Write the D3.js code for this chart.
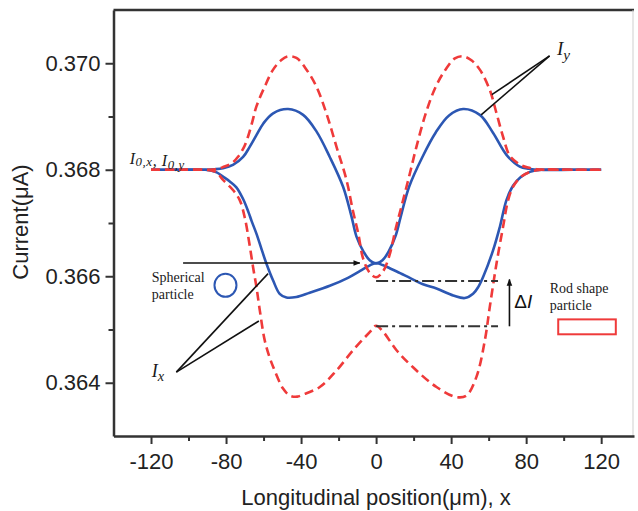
<!DOCTYPE html>
<html>
<head>
<meta charset="utf-8">
<title>Current vs longitudinal position</title>
<script src="https://cdn.jsdelivr.net/npm/d3@7/dist/d3.min.js"></script>
<style>
  body { margin: 0; background: #fff; }
  #chart svg { display: block; font-family: Arial, "Liberation Sans", sans-serif; }
  .tick text { font-size: 22px; fill: #222; }
  .serif { font-family: "Liberation Serif", "Times New Roman", serif; fill: #1a1a1a; }
</style>
</head>
<body>
<div id="chart"></div>
<script>
// x = longitudinal position (um), value = current (uA)
const xTicks = [-120, -80, -40, 0, 40, 80, 120];
const xMinorTicks = [-100, -60, -20, 20, 60, 100];
const yTicks = [0.364, 0.366, 0.368, 0.370];
const yMinorTicks = [0.365, 0.367, 0.369];

// spherical particle (blue, solid)
const iySphere = [
    [-120, 0.36800], [-105, 0.36800], [-92, 0.36800], [-86, 0.36801], [-81.6, 0.36803], [-76.3, 0.36809],
    [-70.9, 0.36824], [-67.4, 0.36843], [-63.8, 0.36865], [-60.1, 0.36887], [-54.9, 0.36906],
    [-46.9, 0.36914], [-38.9, 0.36903], [-31.8, 0.36872], [-24.7, 0.36824], [-17.6, 0.36768],
    [-13.1, 0.36712], [-10.5, 0.36675], [-6.5, 0.36645], [-3.4, 0.36630], [0, 0.36624],
    [3.4, 0.36630], [6.8, 0.36647], [10.5, 0.36677], [13, 0.36710], [17.6, 0.36768],
    [24.7, 0.36824], [31.8, 0.36870], [38.9, 0.36902], [46.4, 0.36914], [55.3, 0.36903],
    [62.4, 0.36869], [69.5, 0.36828], [76.6, 0.36806], [81.6, 0.36802], [87, 0.36800],
    [105, 0.36800], [120, 0.36800]
];
const ixSphere = [
    [-120, 0.36800], [-105, 0.36800], [-91, 0.36800], [-85, 0.36795], [-81.6, 0.36787], [-78, 0.36778],
    [-74.5, 0.36767], [-70.9, 0.36745], [-68, 0.36720], [-66.4, 0.36704], [-63.8, 0.36680],
    [-61, 0.36650], [-58.5, 0.36624], [-54.9, 0.36592], [-51.4, 0.36567], [-47.8, 0.36560],
    [-42.5, 0.36561], [-35.4, 0.36569], [-24.7, 0.36582], [-15, 0.36597], [-8.5, 0.36610],
    [-3.5, 0.36620], [0, 0.36625], [3.5, 0.36621], [7.3, 0.36615], [11, 0.36609],
    [18, 0.36597], [25, 0.36585], [32.2, 0.36577], [41.1, 0.36564], [47.3, 0.36559],
    [51.7, 0.36567], [54.5, 0.36580], [57.1, 0.36599], [62.4, 0.36649], [66, 0.36693],
    [69.5, 0.36743], [73, 0.36770], [77, 0.36786], [82, 0.36796], [88, 0.36800],
    [105, 0.36800], [120, 0.36800]
];

// rod shaped particle (red, dashed)
const iyRod = [
    [-120, 0.36800], [-105, 0.36800], [-91, 0.36800], [-85.5, 0.36801], [-81.6, 0.36805], [-77, 0.36812],
    [-73.5, 0.36825], [-70.5, 0.36842], [-68.3, 0.36862], [-66, 0.36890], [-63.8, 0.36919],
    [-59.4, 0.36956], [-54.9, 0.36988], [-50.5, 0.37006], [-47, 0.37013], [-42.5, 0.37010],
    [-37.1, 0.36988], [-31.8, 0.36956], [-26.5, 0.36906], [-21.1, 0.36843], [-15.8, 0.36781],
    [-12.3, 0.36722], [-9.5, 0.36680], [-6.9, 0.36633], [-3.5, 0.36607], [0, 0.36598],
    [3.5, 0.36608], [7, 0.36638], [10.5, 0.36690], [14.4, 0.36743], [18, 0.36793],
    [21.5, 0.36843], [26.5, 0.36906], [31.8, 0.36956], [37, 0.36988], [42, 0.37009],
    [46.4, 0.37013], [51, 0.37005], [55.3, 0.36988], [60.6, 0.36950], [64.2, 0.36906],
    [67.7, 0.36862], [71.3, 0.36826], [76.6, 0.36810], [81, 0.36804], [85.5, 0.36801],
    [91, 0.36800], [105, 0.36800], [120, 0.36800]
];
const ixRod = [
    [-120, 0.36800], [-105, 0.36800], [-91, 0.36800], [-85.5, 0.36796], [-81.6, 0.36781], [-76.3, 0.36762],
    [-72.7, 0.36743], [-70, 0.36710], [-67.5, 0.36660], [-65.5, 0.36615], [-63.8, 0.36580],
    [-62, 0.36536], [-59.4, 0.36480], [-57, 0.36450], [-54.9, 0.36430], [-49.6, 0.36389],
    [-46, 0.36376], [-42, 0.36374], [-38.9, 0.36378], [-30, 0.36392], [-21.1, 0.36423],
    [-12.3, 0.36461], [-3.4, 0.36495], [0, 0.36507], [3.5, 0.36497], [10.9, 0.36461],
    [19.7, 0.36429], [32.2, 0.36392], [42.9, 0.36373], [48.2, 0.36376], [53.5, 0.36411],
    [58, 0.36480], [60.6, 0.36542], [64.2, 0.36624], [67.7, 0.36693], [70.4, 0.36743],
    [73, 0.36768], [77, 0.36786], [82, 0.36796], [88, 0.36800], [105, 0.36800], [120, 0.36800]
];

// annotations, in data units
const iyLeaders = [[[92.5, 0.37014], [61.7, 0.36941]], [[92.5, 0.37014], [56, 0.36903]]];
const ixLeaders = [[[-106.5, 0.36420], [-57.6, 0.36605]], [[-106.5, 0.36420], [-62.5, 0.36516]]];
const sphereArrow = [[-102.9, 0.36625], [-8.7, 0.36625]];
const deltaLevels = [0.36591, 0.36506];
const deltaSpan = [0, 65];
const deltaArrow = [[71.1, 0.36506], [71.1, 0.36594]];
const sphereIcon = [-80.3, 0.36583];
const rodIcon = [[97.1, 0.36519], [127.8, 0.36491]];

function drawChart() {
    let dimensions = {
        width: 638,
        height: 511,
        margin: { top: 10, right: 4, bottom: 75, left: 113.5 },
    }
    dimensions.right = dimensions.width - dimensions.margin.right;
    dimensions.bottom = dimensions.height - dimensions.margin.bottom;

    const blue = "#2c57b3";
    const red = "#ef3a3a";
    const axisColor = "#333";

    //SCALES
    const xScale = d3.scaleLinear()
        .domain([-140, 137.5])
        .range([dimensions.margin.left, dimensions.right]);
    const yScale = d3.scaleLinear()
        .domain([0.363, 0.371])
        .range([dimensions.bottom, dimensions.margin.top]);

    const wrapper = d3.select("#chart").append("svg")
        .attr("width", dimensions.width)
        .attr("height", dimensions.height);

    const defs = wrapper.append("defs");
    defs.append("marker")
        .attr("id", "arrowHead")
        .attr("viewBox", "0 0 10 10")
        .attr("refX", 9)
        .attr("refY", 5)
        .attr("markerWidth", 7)
        .attr("markerHeight", 7)
        .attr("markerUnits", "userSpaceOnUse")
        .attr("orient", "auto")
        .append("path")
        .attr("d", "M0,1 L10,5 L0,9 Z")
        .attr("fill", "#111");

    //FRAME: top dark, right light
    wrapper.append("line")
        .attr("x1", dimensions.margin.left).attr("x2", dimensions.right)
        .attr("y1", dimensions.margin.top).attr("y2", dimensions.margin.top)
        .attr("stroke", axisColor).attr("stroke-width", 2.5);
    wrapper.append("line")
        .attr("x1", dimensions.right - 1).attr("x2", dimensions.right - 1)
        .attr("y1", dimensions.margin.top).attr("y2", dimensions.bottom)
        .attr("stroke", "#cfcfcf").attr("stroke-width", 1);

    //AXES
    wrapper.append("g")
        .attr("transform", `translate(0, ${dimensions.bottom})`)
        .call(d3.axisBottom(xScale).tickValues(xTicks).tickSize(8).tickSizeOuter(0)
            .tickPadding(9).tickFormat(d => String(d)));
    wrapper.append("g")
        .attr("transform", `translate(0, ${dimensions.bottom})`)
        .call(d3.axisBottom(xScale).tickValues(xMinorTicks).tickSize(5).tickSizeOuter(0).tickFormat(""))
        .select(".domain").remove();

    wrapper.append("g")
        .attr("transform", `translate(${dimensions.margin.left}, 0)`)
        .call(d3.axisLeft(yScale).tickValues(yTicks).tickSize(8).tickSizeOuter(0)
            .tickPadding(5).tickFormat(d3.format(".3f")));
    wrapper.append("g")
        .attr("transform", `translate(${dimensions.margin.left}, 0)`)
        .call(d3.axisLeft(yScale).tickValues(yMinorTicks).tickSize(5).tickSizeOuter(0).tickFormat(""))
        .select(".domain").remove();

    wrapper.selectAll(".domain").attr("stroke", axisColor).attr("stroke-width", 2.5);
    wrapper.selectAll(".tick line").attr("stroke", axisColor).attr("stroke-width", 2);

    //AXIS TITLES
    wrapper.append("text")
        .attr("x", xScale(0))
        .attr("y", 505)
        .attr("text-anchor", "middle")
        .attr("font-size", "22px")
        .attr("fill", "#222")
        .text("Longitudinal position(\u03bcm), x");
    wrapper.append("text")
        .attr("transform", `translate(28, ${(yScale(0.3665) + yScale(0.3675)) / 2 - 1}) rotate(-90)`)
        .attr("text-anchor", "middle")
        .attr("font-size", "22px")
        .attr("fill", "#222")
        .text("Current(\u03bcA)");

    //CURVES
    const line = d3.line()
        .x(d => xScale(d[0]))
        .y(d => yScale(d[1]))
        .curve(d3.curveCatmullRom.alpha(0.5));

    const curves = wrapper.append("g").attr("fill", "none");
    [iySphere, ixSphere].forEach(series => {
        curves.append("path")
            .attr("d", line(series))
            .attr("stroke", blue)
            .attr("stroke-width", 2.6);
    });
    [iyRod, ixRod].forEach(series => {
        curves.append("path")
            .attr("d", line(series))
            .attr("stroke", red)
            .attr("stroke-width", 2.6)
            .attr("stroke-dasharray", "9 5");
    });

    //ANNOTATIONS
    const notes = wrapper.append("g");
    [...iyLeaders, ...ixLeaders].forEach(seg => {
        notes.append("line")
            .attr("x1", xScale(seg[0][0])).attr("y1", yScale(seg[0][1]))
            .attr("x2", xScale(seg[1][0])).attr("y2", yScale(seg[1][1]))
            .attr("stroke", "#111").attr("stroke-width", 1.6);
    });

    notes.append("line")
        .attr("x1", xScale(sphereArrow[0][0])).attr("y1", yScale(sphereArrow[0][1]))
        .attr("x2", xScale(sphereArrow[1][0])).attr("y2", yScale(sphereArrow[1][1]))
        .attr("stroke", "#111").attr("stroke-width", 1.6)
        .attr("marker-end", "url(#arrowHead)");

    deltaLevels.forEach(v => {
        notes.append("line")
            .attr("x1", xScale(deltaSpan[0])).attr("x2", xScale(deltaSpan[1]))
            .attr("y1", yScale(v)).attr("y2", yScale(v))
            .attr("stroke", "#333").attr("stroke-width", 2)
            .attr("stroke-dasharray", "12 4 3 4");
    });
    notes.append("line")
        .attr("x1", xScale(deltaArrow[0][0])).attr("y1", yScale(deltaArrow[0][1]))
        .attr("x2", xScale(deltaArrow[1][0])).attr("y2", yScale(deltaArrow[1][1]))
        .attr("stroke", "#111").attr("stroke-width", 1.6)
        .attr("marker-end", "url(#arrowHead)");

    const dI = notes.append("text")
        .attr("x", xScale(73.7))
        .attr("y", yScale(0.36541))
        .attr("font-size", "19px")
        .attr("fill", "#111");
    dI.append("tspan").text("\u0394");
    dI.append("tspan").attr("font-style", "italic").text("I");

    // curve labels with subscripts
    function subLabel(xv, yv, parts, size, shift) {
        const t = notes.append("text")
            .attr("class", "serif")
            .attr("x", xScale(xv))
            .attr("y", yScale(yv))
            .attr("font-style", "italic")
            .attr("font-size", size + "px");
        parts.forEach(p => {
            if (p.sub) {
                t.append("tspan").attr("dy", shift).attr("font-size", (size * 0.8) + "px").text(p.sub);
                t.append("tspan").attr("dy", -shift).text("");
            } else {
                t.append("tspan").text(p.text);
            }
        });
        return t;
    }
    subLabel(96.4, 0.37016, [{ text: "I" }, { sub: "y" }], 19, 5);
    subLabel(-119.6, 0.36411, [{ text: "I" }, { sub: "x" }], 18, 4);
    subLabel(-131.4, 0.36811, [{ text: "I" }, { sub: "0,x" }, { text: ", I" }, { sub: "0,y" }], 16, 2.5)
        .attr("letter-spacing", "0.6px");

    // particle legends
    const sph = notes.append("text").attr("class", "serif").attr("font-size", "14px");
    sph.append("tspan").attr("x", xScale(-119.6)).attr("y", yScale(0.36589)).text("Spherical");
    sph.append("tspan").attr("x", xScale(-119.6)).attr("y", yScale(0.36558)).text("particle");
    notes.append("ellipse")
        .attr("cx", xScale(sphereIcon[0])).attr("cy", yScale(sphereIcon[1]))
        .attr("rx", 11).attr("ry", 11.5)
        .attr("fill", "none").attr("stroke", blue).attr("stroke-width", 2);

    const rod = notes.append("text").attr("class", "serif").attr("font-size", "14px");
    rod.append("tspan").attr("x", xScale(92.6)).attr("y", yScale(0.36568)).text("Rod shape");
    rod.append("tspan").attr("x", xScale(92.6)).attr("y", yScale(0.36536)).text("particle");
    notes.append("rect")
        .attr("x", xScale(rodIcon[0][0])).attr("y", yScale(rodIcon[0][1]))
        .attr("width", xScale(rodIcon[1][0]) - xScale(rodIcon[0][0]))
        .attr("height", yScale(rodIcon[1][1]) - yScale(rodIcon[0][1]))
        .attr("fill", "none").attr("stroke", red).attr("stroke-width", 2);
}

drawChart();
</script>
</body>
</html>
